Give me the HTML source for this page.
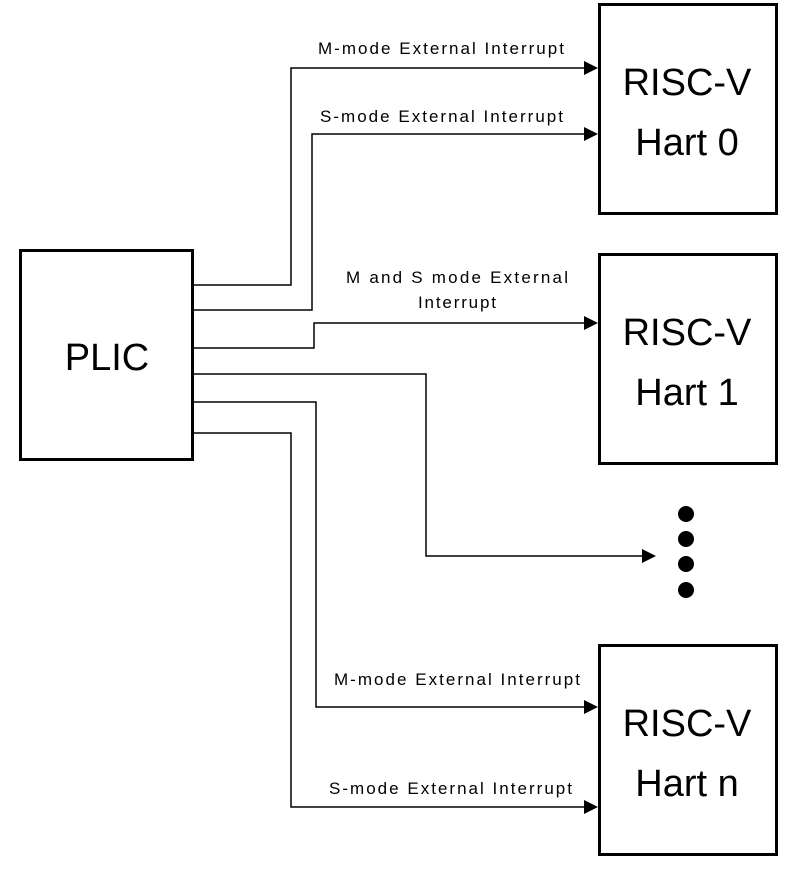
<!DOCTYPE html>
<html><head><style>body{margin:0;background:#fff}</style></head><body>
<svg width="800" height="865" xmlns="http://www.w3.org/2000/svg" font-family="Liberation Sans, sans-serif">
<g fill="none" stroke="#000" stroke-width="3">
<rect x="20.5" y="250.5" width="172" height="209"/>
<rect x="599.5" y="4.5" width="177" height="209"/>
<rect x="599.5" y="254.5" width="177" height="209"/>
<rect x="599.5" y="645.5" width="177" height="209"/>
</g>
<g fill="none" stroke="#000" stroke-width="1.5">
<polyline points="193,285 291,285 291,68 586,68"/>
<polyline points="193,310 312,310 312,134 586,134"/>
<polyline points="193,348 314,348 314,323 586,323"/>
<polyline points="193,374 426,374 426,556 644,556"/>
<polyline points="193,402 316,402 316,707 586,707"/>
<polyline points="193,433 291,433 291,807 586,807"/>
</g>
<g fill="#000">
<polygon points="584,61 598,68 584,75"/>
<polygon points="584,127 598,134 584,141"/>
<polygon points="584,316 598,323 584,330"/>
<polygon points="642,549 656,556 642,563"/>
<polygon points="584,700 598,707 584,714"/>
<polygon points="584,800 598,807 584,814"/>
<circle cx="686" cy="514" r="8"/>
<circle cx="686" cy="539" r="8"/>
<circle cx="686" cy="564" r="8"/>
<circle cx="686" cy="590" r="8"/>
</g>
<g font-size="17" fill="#000">
<text x="318" y="54" textLength="246" lengthAdjust="spacing">M-mode External Interrupt</text>
<text x="320" y="122" textLength="243" lengthAdjust="spacing">S-mode External Interrupt</text>
<text x="346" y="283" textLength="222" lengthAdjust="spacing">M and S mode External</text>
<text x="418" y="308" textLength="78" lengthAdjust="spacing">Interrupt</text>
<text x="334" y="685" textLength="246" lengthAdjust="spacing">M-mode External Interrupt</text>
<text x="329" y="794" textLength="243" lengthAdjust="spacing">S-mode External Interrupt</text>
</g>
<g font-size="38" text-anchor="middle" fill="#000">
<text x="107" y="370">PLIC</text>
<text x="687" y="95">RISC-V</text>
<text x="687" y="155">Hart 0</text>
<text x="687" y="345">RISC-V</text>
<text x="687" y="405">Hart 1</text>
<text x="687" y="736">RISC-V</text>
<text x="687" y="796">Hart n</text>
</g>
</svg>
</body></html>
